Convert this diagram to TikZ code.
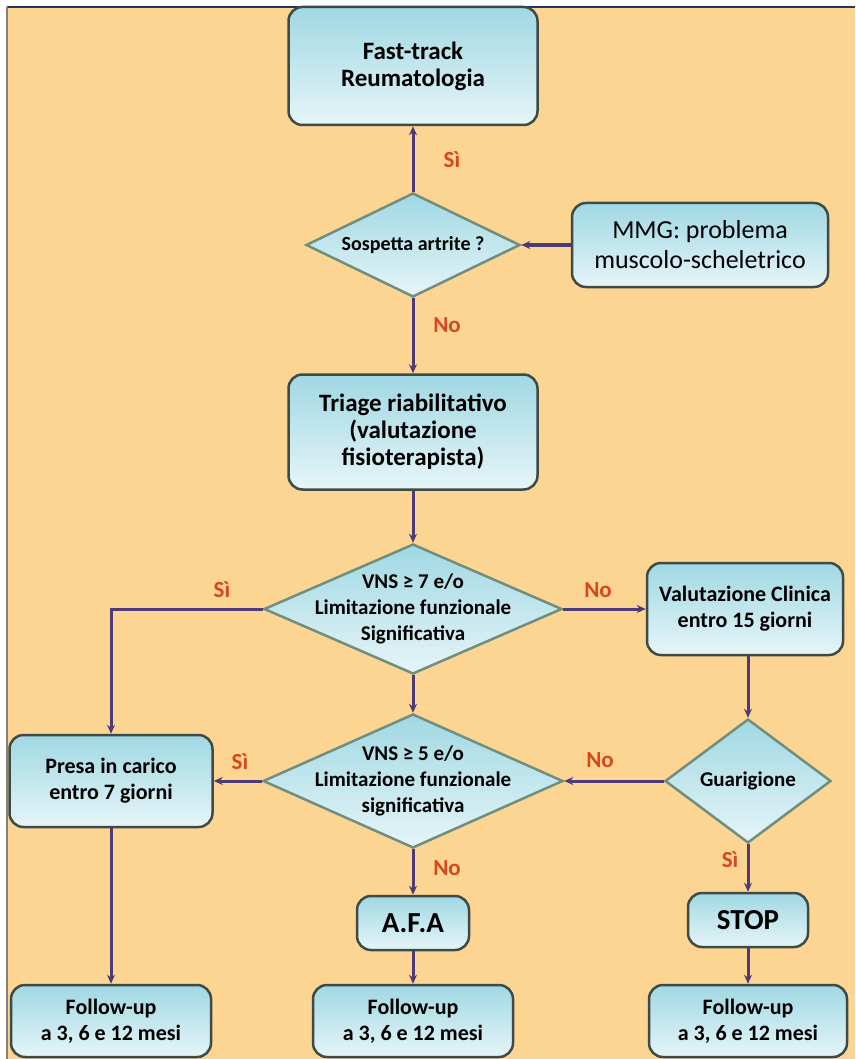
\documentclass[tikz,border=0pt]{standalone}
\usepackage{fontspec}
\setmainfont{Carlito}
\usetikzlibrary{arrows.meta, positioning, shapes.geometric, calc}

\definecolor{sfondo}{RGB}{253,213,146}
\definecolor{boxtop}{RGB}{160,216,227}
\definecolor{boxbot}{RGB}{230,245,248}
\definecolor{bordo}{RGB}{62,74,70}
\definecolor{bordorombo}{RGB}{112,142,126}
\definecolor{freccia}{RGB}{78,58,118}
\definecolor{risposta}{RGB}{214,72,30}
\definecolor{cornice}{RGB}{30,55,100}

\tikzset{
  box/.style={rectangle, rounded corners=14pt, draw=bordo, line width=2.5pt,
    top color=boxtop, bottom color=boxbot, align=center, inner sep=2pt,
    font=\bfseries\fontsize{22}{26}\selectfont},
  decision/.style={diamond, draw=bordorombo, line width=2.5pt, inner sep=0pt,
    top color=boxtop, bottom color=boxbot},
  dtext/.style={align=center, font=\bfseries\fontsize{21}{26}\selectfont},
  answer/.style={text=risposta, font=\bfseries\fontsize{23}{26}\selectfont},
  link/.style={draw=freccia, line width=3pt, -{Stealth[length=9pt,width=8pt]}},
}

\begin{document}
\begin{tikzpicture}[x=1pt, y=-1pt]
  \useasboundingbox (0,0) rectangle (855,1059);
  % sfondo
  \fill[white] (0,0) rectangle (855,1059);
  \fill[sfondo] (7,7) rectangle (855,1059);
  \draw[cornice, line width=1.5pt] (7,7) -- (855,7);
  \draw[gray, line width=1.2pt] (7,7) -- (7,1059);

  % colonna centrale
  \node[box, minimum width=249, minimum height=118,
    font=\bfseries\fontsize{25}{27}\selectfont] (fast) at (413,66) {Fast-track\\Reumatologia};
  \node[decision, minimum width=214, minimum height=104] (artrite) at (413,245) {};
  \node[dtext, font=\bfseries\fontsize{20}{24}\selectfont] (artrite-t) at (artrite) {Sospetta artrite ?};
  \node[box, minimum width=256, minimum height=84,
    font=\fontsize{26}{30}\selectfont] (mmg) at (700,245) {MMG: problema\\muscolo-scheletrico};
  \node[box, minimum width=249, minimum height=115,
    font=\bfseries\fontsize{25}{27}\selectfont] (triage) at (413,432) {Triage riabilitativo\\(valutazione\\fisioterapista)};

  \node[decision, minimum width=298, minimum height=130] (vns7) at (413,609) {};
  \node[dtext] (vns7-t) at (vns7) {VNS ≥ 7 e/o\\Limitazione funzionale\\Significativa};
  \node[box, minimum width=196, minimum height=92] (valut) at (745,609) {Valutazione Clinica\\entro 15 giorni};

  \node[decision, minimum width=300, minimum height=134] (vns5) at (413,781) {};
  \node[dtext] (vns5-t) at (vns5) {VNS ≥ 5 e/o\\Limitazione funzionale\\significativa};
  \node[decision, minimum width=166, minimum height=124] (guar) at (748,781) {};
  \node[dtext] (guar-t) at (guar) {Guarigione};
  \node[box, minimum width=203, minimum height=92] (presa) at (111,781) {Presa in carico\\entro 7 giorni};

  \node[box, minimum width=112, minimum height=54,
    font=\bfseries\fontsize{29}{30}\selectfont] (afa) at (413,923) {A.F.A};
  \node[box, minimum width=120, minimum height=54,
    font=\bfseries\fontsize{29}{30}\selectfont] (stop) at (748,920) {STOP};

  % follow-up
  \node[box, minimum width=200, minimum height=72] (fu1) at (111,1021) {Follow-up\\a 3, 6 e 12 mesi};
  \node[box, minimum width=200, minimum height=72] (fu2) at (413,1021) {Follow-up\\a 3, 6 e 12 mesi};
  \node[box, minimum width=198, minimum height=72] (fu3) at (748,1021) {Follow-up\\a 3, 6 e 12 mesi};

  % risposte
  \node[answer] (si1) at (452,160) {Sì};
  \node[answer] (no1) at (447,325) {No};
  \node[answer] (si2) at (222,590) {Sì};
  \node[answer] (no2) at (598,590) {No};
  \node[answer] (si3) at (240,762) {Sì};
  \node[answer] (no3) at (600,760) {No};
  \node[answer] (no4) at (447,868) {No};
  \node[answer] (si4) at (730,860) {Sì};

  % frecce
  \draw[link] (artrite.north) -- (fast.south);
  \draw[link] (mmg.west) -- (artrite.east);
  \draw[link] (artrite.south) -- (triage.north);
  \draw[link] (triage.south) -- (vns7.north);
  \draw[link] (vns7.west) -| (presa.north);
  \draw[link] (vns7.east) -- (valut.west);
  \draw[link] (vns7.south) -- (vns5.north);
  \draw[link] (valut.south -| guar.north) -- (guar.north);
  \draw[link] (guar.west) -- (vns5.east);
  \draw[link] (vns5.west) -- (presa.east);
  \draw[link] (vns5.south) -- (afa.north);
  \draw[link] (guar.south) -- (stop.north);
  \draw[link] (presa.south) -- (fu1.north);
  \draw[link] (afa.south) -- (fu2.north);
  \draw[link] (stop.south) -- (fu3.north);
\end{tikzpicture}
\end{document}
